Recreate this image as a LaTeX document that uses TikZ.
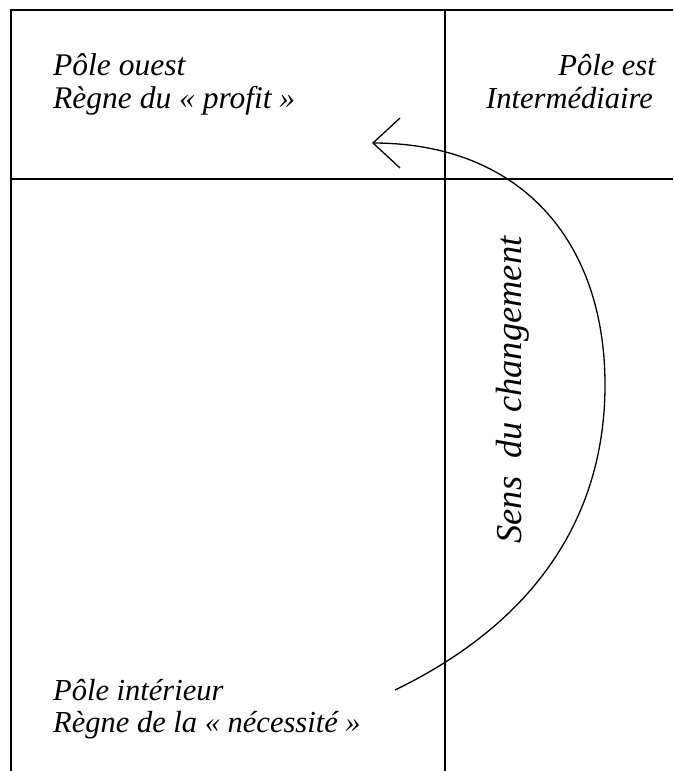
\documentclass[tikz,border=0pt]{standalone}
\usepackage{fontspec}
\setmainfont{Liberation Serif}
\begin{document}
\begin{tikzpicture}[x=1pt,y=-1pt,
  frame/.style={line width=1.6pt},
  flow/.style={line width=1.3pt},
  lbl/.style={font=\fontsize{31.5}{35}\selectfont\itshape, inner sep=0pt},
  lblr/.style={font=\fontsize{30.5}{34}\selectfont\itshape, inner sep=0pt},
  lblbig/.style={font=\fontsize{36.5}{40}\selectfont\itshape, inner sep=0pt}]
\useasboundingbox (0,0) rectangle (673,771);
% grid
\draw[frame] (673,10) -- (11,10) -- (11,771);
\draw[frame] (11,179) -- (673,179);
\draw[frame] (445,10) -- (445,771);
% labels
\node[lbl, anchor=base west] (w1) at (53,75) {Pôle ouest};
\node[lbl, anchor=base west] (w2) at (53,108) {Règne du « profit »};
\node[lblr, anchor=base east] (e1) at (656,75) {Pôle est};
\node[lblr, anchor=base east] (e2) at (653,108) {Intermédiaire};
\node[lblr, anchor=base west] (i1) at (53,700) {Pôle intérieur};
\node[lblr, anchor=base west] (i2) at (53,732) {Règne de la « nécessité »};
\node[lblbig, rotate=90] (s) at (513,390) {Sens\ \ du changement};
% arrow
\coordinate (start) at (395,690);
\coordinate (mid) at (605,385);
\coordinate (tip) at (373,143);
\draw[flow] (start) .. controls (560,610) and (605,490) .. (mid)
  .. controls (605,240) and (520,143) .. (tip);
\draw[flow] (tip) ++(27,-25) -- (tip) -- ++(27,25);
\end{tikzpicture}
\end{document}
